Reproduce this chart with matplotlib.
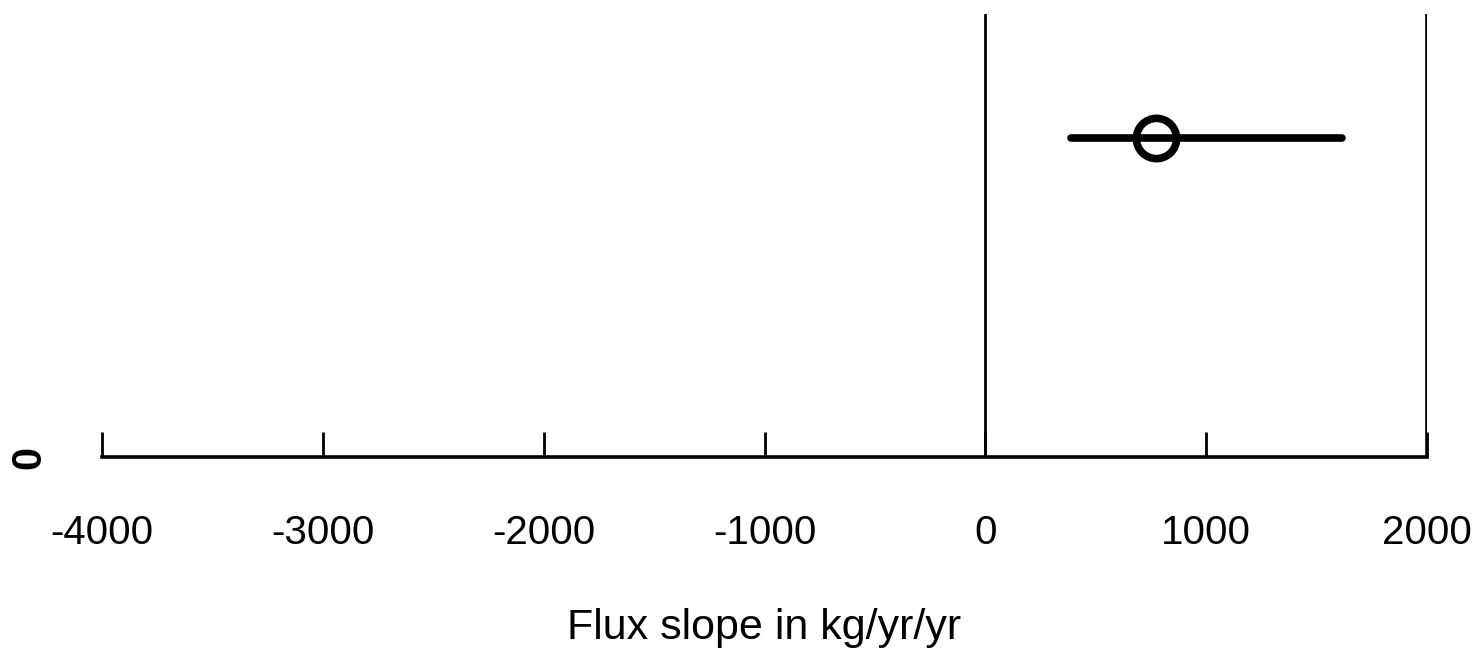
import matplotlib
matplotlib.use("Agg")
import matplotlib.pyplot as plt

plt.rcParams['font.family'] = ['Liberation Sans', 'DejaVu Sans']

estimate = [774]
lower = [390]
upper = [1613]
ypos = [1]
xticks = [-4000, -3000, -2000, -1000, 0, 1000, 2000]
xticklabels = ["-4000", "-3000", "-2000", "-1000", "0", "1000", "2000"]
xlabel = "Flux slope in kg/yr/yr"

W, H = 1474, 654
fig = plt.figure(figsize=(W / 100, H / 100), dpi=100)
ax = fig.add_axes([102 / W, (H - 457) / H, (1427 - 102) / W, (457 - 14) / H])
ax.set_xlim(-4000, 2000)
ax.set_ylim(0, 1.39)

ax.axvline(0, color='black', lw=2.0)
ax.axvline(2000, color='black', lw=2.6)

for e, lo, hi, y in zip(estimate, lower, upper, ypos):
    ax.plot([lo, hi], [y, y], color='black', lw=5.5, solid_capstyle='round', zorder=2)
    ax.plot([e], [y], marker='o', ms=29, mfc='none', mec='black', mew=5.5, zorder=3)

for s in ['top', 'right', 'left']:
    ax.spines[s].set_visible(False)
ax.spines['bottom'].set_linewidth(2.6)

ax.set_xticks(xticks)
ax.set_xticklabels(xticklabels, fontsize=29)
ax.tick_params(axis='x', direction='in', length=18, width=2.0, pad=41)

ax.set_yticks([0])
ax.set_yticklabels(["0"], fontsize=30, rotation=90, va='center', fontweight='bold')
ax.tick_params(axis='y', length=0, pad=38)

ax.set_xlabel(xlabel, fontsize=31, labelpad=40)

fig.savefig("out.png", dpi=100)
